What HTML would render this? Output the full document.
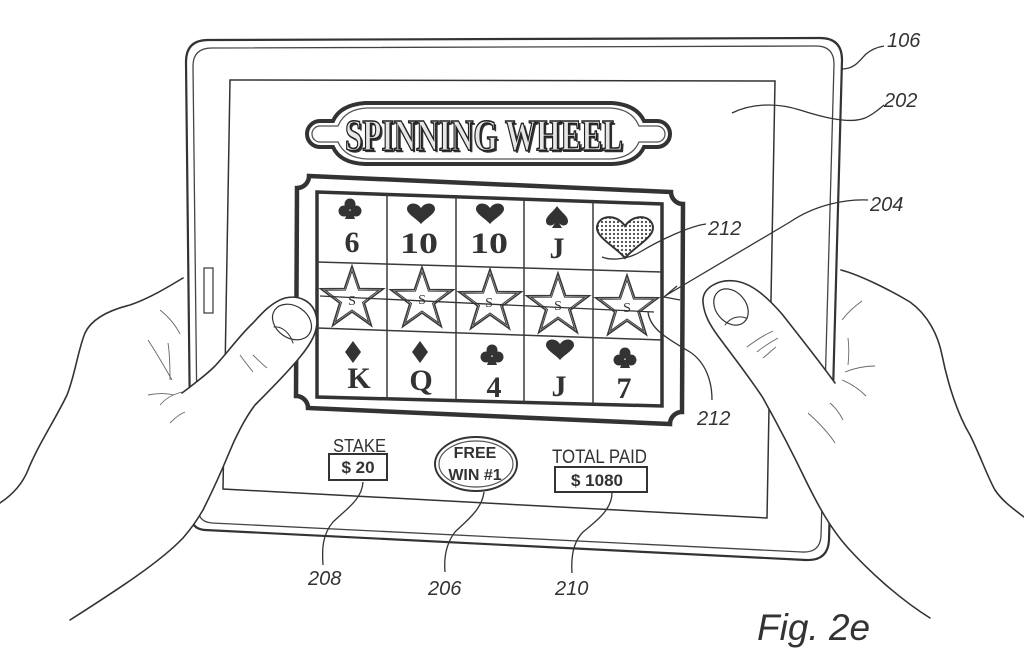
<!DOCTYPE html>
<html><head><meta charset="utf-8"><style>
html,body{margin:0;padding:0;background:#fff;}
svg{display:block;}
.lbl{font-family:"Liberation Sans",sans-serif;font-style:italic;font-size:20px;fill:#333;}
.num{font-family:"Liberation Serif",serif;font-weight:bold;font-size:30px;fill:#333;}
.ui{font-family:"Liberation Sans",sans-serif;fill:#333;}
</style></head><body>
<svg width="1024" height="665" viewBox="0 0 1024 665" xmlns="http://www.w3.org/2000/svg">
<defs>
  <pattern id="dots" width="4" height="4" patternUnits="userSpaceOnUse"><circle cx="2" cy="2" r="1.1" fill="#444"/></pattern>
  <path id="heart" d="M0,10 C-4,5 -14,0 -14,-5 C-14,-11 -5,-13 0,-6 C5,-13 14,-11 14,-5 C14,0 4,5 0,10 Z"/>
  <g id="club"><circle cx="0" cy="-5" r="5.5"/><circle cx="-6" cy="2" r="5.5"/><circle cx="6" cy="2" r="5.5"/><path d="M-2,2 L2,2 L5,10 L-5,10 Z"/></g>
  <path id="spade" d="M0,-11 C4,-5 11,-1 11,4 C11,9 5,10 2,6 L5,11 L-5,11 L-2,6 C-5,10 -11,9 -11,4 C-11,-1 -4,-5 0,-11 Z"/>
  <path id="diamond" d="M0,-11 L8,0 L0,11 L-8,0 Z"/>
  <g id="star" fill="#fff" stroke="#3a3a3a">
    <path stroke-width="1.6" d="M0,-33 L7.6,-10.5 L31.4,-10.2 L12.4,4 L19.4,26.7 L0,13 L-19.4,26.7 L-12.4,4 L-31.4,-10.2 L-7.6,-10.5 Z"/>
    <path stroke-width="1" d="M0,-28 L6.5,-8.9 L26.6,-8.7 L10.5,3.4 L16.5,22.7 L0,11 L-16.5,22.7 L-10.5,3.4 L-26.6,-8.7 L-6.5,-8.9 Z"/>
  </g>
</defs>

<!-- Tablet -->
<path d="M208,40 L820,38 Q842,38 842,60 L829,540 Q828,561 806,560 L205,530 Q191,529 191,515 L186,62 Q186,40 208,40 Z" fill="#fff" stroke="#333" stroke-width="2.2"/>
<path d="M212,48 L816,46 Q834,46 834,64 L821,536 Q820,553 802,552 L212,523 Q198,522 198,508 L193,66 Q193,48 212,48 Z" fill="none" stroke="#444" stroke-width="1.3"/>
<rect x="204" y="268" width="9" height="45" fill="none" stroke="#444" stroke-width="1.3"/>
<!-- Screen -->
<path d="M230,80 L775,81 L767,518 L223,489 Z" fill="#fff" stroke="#333" stroke-width="1.5"/>

<!-- Title banner -->
<path d="M333,121 Q340,105 365,103 L612,103 Q637,105 644,121 L657,121 A13,13 0 0 1 657,147 L644,147 Q637,163 612,164 L365,164 Q340,163 333,147 L320,147 A13,13 0 0 1 320,121 Z" fill="#fff" stroke="#333" stroke-width="4"/>
<path d="M338,126 Q345,109 367,108 L610,108 Q632,109 639,126 L657,126 A8,8 0 0 1 657,142 L639,142 Q632,158 610,159 L367,159 Q345,158 338,142 L320,142 A8,8 0 0 1 320,126 Z" fill="none" stroke="#555" stroke-width="1.3"/>
<text x="347" y="152" textLength="278" lengthAdjust="spacingAndGlyphs" font-family="Liberation Serif,serif" font-weight="bold" font-size="44" fill="#333">SPINNING WHEEL</text>
<text x="345" y="150" textLength="278" lengthAdjust="spacingAndGlyphs" font-family="Liberation Serif,serif" font-weight="bold" font-size="44" fill="#e6e6e6" stroke="#222" stroke-width="1.6">SPINNING WHEEL</text>

<!-- Grid frame -->
<path d="M309,176 L671,192 A12,12 0 0 0 683,204 L682,412 A12,12 0 0 0 670,424 L308,408 A12,12 0 0 0 296,396 L297,188 A12,12 0 0 0 309,176 Z" fill="#fff" stroke="#333" stroke-width="4.5"/>
<path d="M317,192 L662,204 L662,406 L317,397 Z" fill="#fff" stroke="#333" stroke-width="3.5"/>
<g stroke="#3a3a3a" stroke-width="1.5">
  <line x1="317" y1="262" x2="662" y2="272"/>
  <line x1="317" y1="328" x2="662" y2="340"/>
  <line x1="387" y1="194.4" x2="387" y2="398.8"/>
  <line x1="456" y1="196.8" x2="456" y2="400.6"/>
  <line x1="524" y1="199.2" x2="524" y2="402.4"/>
  <line x1="593" y1="201.6" x2="593" y2="404.2"/>
</g>

<!-- Row 1 -->
<g fill="#333">
  <use href="#club" x="350" y="209"/>
  <use href="#heart" x="421" y="214"/>
  <use href="#heart" x="490" y="214"/>
  <use href="#spade" x="557" y="217"/>
</g>
<text class="num" x="352" y="252" text-anchor="middle">6</text>
<text class="num" x="400" y="253" textLength="38" lengthAdjust="spacingAndGlyphs">10</text>
<text class="num" x="470" y="253" textLength="38" lengthAdjust="spacingAndGlyphs">10</text>
<text class="num" x="557" y="258" text-anchor="middle">J</text>
<path d="M625,258 C617,248 597,238 597,228 C597,216 615,212 625,226 C635,212 653,216 653,228 C653,238 633,248 625,258 Z" fill="url(#dots)" stroke="#333" stroke-width="2"/>

<!-- Row 2 stars -->
<use href="#star" x="352" y="299"/>
<use href="#star" x="422" y="300"/>
<use href="#star" x="490" y="302"/>
<use href="#star" x="558" y="306"/>
<use href="#star" x="627" y="308"/>
<g font-family="Liberation Serif,serif" font-size="14" fill="#333" text-anchor="middle">
  <text x="352" y="305">S</text><text x="422" y="304">S</text><text x="489" y="307">S</text><text x="558" y="310">S</text><text x="627" y="312">S</text>
</g>
<line x1="320" y1="296" x2="654" y2="312" stroke="#333" stroke-width="1.3"/>

<!-- Row 3 -->
<g fill="#333">
  <use href="#diamond" x="353" y="352"/>
  <use href="#diamond" x="420" y="352"/>
  <use href="#club" x="492" y="355"/>
  <use href="#heart" x="560" y="350"/>
  <use href="#club" x="625" y="358"/>
</g>
<text class="num" x="359" y="388" text-anchor="middle" font-size="27">K</text>
<text class="num" x="421" y="390" text-anchor="middle" font-size="27">Q</text>
<text class="num" x="494" y="397" text-anchor="middle">4</text>
<text class="num" x="559" y="396" text-anchor="middle">J</text>
<text class="num" x="624" y="398" text-anchor="middle">7</text>

<!-- Bottom UI -->
<text class="ui" x="333" y="452" font-size="18" textLength="53" lengthAdjust="spacingAndGlyphs">STAKE</text>
<rect x="329" y="454" width="58" height="26" fill="#fff" stroke="#333" stroke-width="2"/>
<text class="ui" x="358" y="473" font-size="17" font-weight="bold" text-anchor="middle">$ 20</text>

<ellipse cx="476" cy="464" rx="41" ry="27" fill="#fff" stroke="#333" stroke-width="2"/>
<ellipse cx="476" cy="464" rx="37" ry="23" fill="none" stroke="#555" stroke-width="1.2"/>
<text class="ui" x="475" y="458" font-size="16" font-weight="bold" text-anchor="middle">FREE</text>
<text class="ui" x="475" y="480" font-size="16" font-weight="bold" text-anchor="middle">WIN #1</text>

<text class="ui" x="552" y="463" font-size="19" textLength="95" lengthAdjust="spacingAndGlyphs">TOTAL PAID</text>
<rect x="555" y="467" width="92" height="25" fill="#fff" stroke="#333" stroke-width="2"/>
<text class="ui" x="597" y="486" font-size="17" font-weight="bold" text-anchor="middle">$ 1080</text>

<!-- Left hand -->
<path d="M182,393 C195,383 205,376 215,366 C228,352 240,335 253,323 C262,313 272,302 285,298 C298,295 312,300 316,315 C320,330 310,345 300,357 C288,372 270,390 255,405 C245,418 235,438 229,453 C222,470 213,490 203,510 C196,522 190,530 183,538 C160,562 120,588 70,620 L0,665 L0,393 Z" fill="#fff"/>
<g fill="none" stroke="#333" stroke-width="1.6" stroke-linecap="round">
  <path d="M0,503 C12,495 22,485 28,470 C38,445 55,420 67,395 C75,375 78,350 85,333 C92,318 110,310 130,305 C150,298 168,287 183,278"/>
  <path d="M182,393 C195,383 205,376 215,366 C228,352 240,335 253,323 C262,313 272,302 285,298 C298,295 312,300 316,315 C320,330 310,345 300,357 C288,372 270,390 255,405 C245,418 235,438 229,453 C222,470 213,490 203,510 C196,522 190,530 183,538 C160,562 120,588 70,620"/>
  <ellipse cx="292" cy="322" rx="21" ry="16" transform="rotate(35 292 322)" stroke-width="1.2"/>
  <path d="M274,327 C282,326 290,333 293,343" stroke-width="1"/>
</g>
<g fill="none" stroke="#666" stroke-width="0.9">
  <path d="M160,310 C170,318 176,326 180,334"/>
  <path d="M148,340 C156,352 164,366 172,380"/>
  <path d="M168,343 C170,355 170,368 170,380"/>
  <path d="M148,395 C158,393 166,393 174,395"/>
  <path d="M160,405 C166,398 174,394 182,392"/>
  <path d="M170,423 C175,418 180,414 185,412"/>
  <path d="M240,355 C245,362 249,367 253,372"/>
  <path d="M253,355 C258,360 262,364 267,368"/>
</g>

<!-- Right hand -->
<path d="M835,383 C820,362 800,337 782,314 C768,298 752,283 735,281 C718,279 702,288 703,302 C704,315 710,325 718,336 C732,355 750,378 763,398 C778,425 795,458 807,483 C818,505 830,528 848,548 C868,570 898,598 930,618 L1024,665 L1024,270 L843,270 L843,383 Z" fill="#fff"/>
<g fill="none" stroke="#333" stroke-width="1.6" stroke-linecap="round">
  <path d="M841,270 C860,275 890,290 910,302 C928,315 938,335 942,355 C948,385 958,415 970,435 C980,455 988,478 995,490 C1003,502 1015,510 1024,517"/>
  <path d="M835,383 C820,362 800,337 782,314 C768,298 752,283 735,281 C718,279 702,288 703,302 C704,315 710,325 718,336 C732,355 750,378 763,398 C778,425 795,458 807,483 C818,505 830,528 848,548 C868,570 898,598 930,618"/>
  <ellipse cx="731" cy="307" rx="20" ry="15" transform="rotate(50 731 307)" stroke-width="1.2"/>
  <path d="M725,325 C730,318 738,315 746,318" stroke-width="1"/>
</g>
<g fill="none" stroke="#666" stroke-width="0.9">
  <path d="M747,347 C755,341 764,335 773,331"/>
  <path d="M757,352 C764,346 771,342 778,338"/>
  <path d="M763,358 C768,354 772,350 776,347"/>
  <path d="M808,413 C818,422 828,432 835,443"/>
  <path d="M830,403 C836,408 840,414 843,420"/>
  <path d="M842,320 C848,312 855,306 862,301"/>
  <path d="M848,338 C849,346 849,356 848,365"/>
  <path d="M845,372 C855,368 866,366 875,366"/>
  <path d="M842,380 C852,384 860,390 866,396"/>
</g>

<!-- Leaders -->
<g fill="none" stroke="#333" stroke-width="1.3">
  <path d="M842,69 C855,69 860,60 866,54 C872,49 878,47 884,46"/>
  <path d="M732,113 C750,104 775,102 800,110 C825,118 850,124 865,118 C872,115 878,110 884,105"/>
  <path d="M868,200 C845,199 815,205 790,222 L665,296"/>
  <path d="M677,286 L664,297 L680,300"/>
  <path d="M706,224 C690,226 660,240 640,252 C628,259 612,261 602,257"/>
  <path d="M648,312 C650,330 670,340 690,352 C705,362 712,380 712,400"/>
  <path d="M363,482 C362,500 345,510 333,522 C322,535 322,550 323,565"/>
  <path d="M484,492 C482,510 465,522 455,532 C445,545 444,560 445,572"/>
  <path d="M612,493 C612,510 595,522 583,532 C573,542 571,558 572,573"/>
</g>

<!-- Reference labels -->
<text class="lbl" x="887" y="47">106</text>
<text class="lbl" x="884" y="107">202</text>
<text class="lbl" x="870" y="211">204</text>
<text class="lbl" x="708" y="235">212</text>
<text class="lbl" x="697" y="425">212</text>
<text class="lbl" x="308" y="585">208</text>
<text class="lbl" x="428" y="595">206</text>
<text class="lbl" x="555" y="595">210</text>
<text x="757" y="640" font-family="Liberation Sans,sans-serif" font-style="italic" font-size="37" fill="#333">Fig. 2e</text>
</svg>
</body></html>
